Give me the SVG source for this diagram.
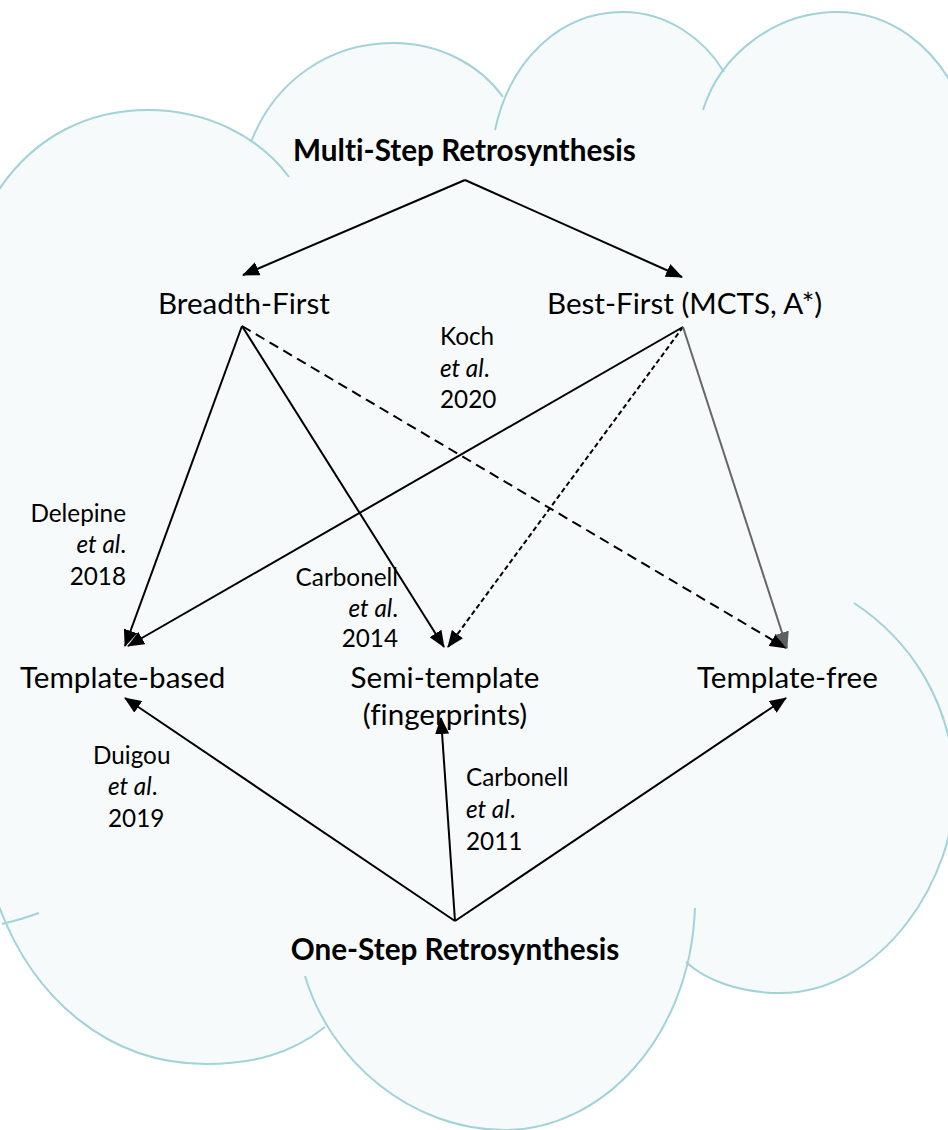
<svg xmlns="http://www.w3.org/2000/svg" width="948" height="1130" viewBox="0 0 948 1130">
  <style>
    .cloud-fill { fill: #f6fafb; stroke: none; }
    .cloud-line { fill: none; stroke: #a1d3d8; stroke-width: 2; }
    .edge { fill: none; stroke: #000; stroke-width: 2; }
    .dash { stroke-dasharray: 10 6; }
    .dot { stroke-dasharray: 5 3; }
    .grey { stroke: #666; }
    text { font-family: Lato, "Open Sans", "Liberation Sans", sans-serif; fill: #000; font-variant-ligatures: none; }
    .title { font-size: 29.7px; font-weight: bold; }
    .label { font-size: 29.6px; }
    .ref { font-size: 24.3px; }
    .it { font-style: italic; }
  </style>
  <defs>
    <marker id="ah" viewBox="0 0 17 14" refX="16" refY="7" markerWidth="17" markerHeight="14" markerUnits="userSpaceOnUse" orient="auto">
      <path d="M0,0 L17,7 L0,14 z" fill="#000"/>
    </marker>
    <marker id="ah-grey" viewBox="0 0 17 14" refX="16" refY="7" markerWidth="17" markerHeight="14" markerUnits="userSpaceOnUse" orient="auto">
      <path d="M0,0 L17,7 L0,14 z" fill="#5f5f5f"/>
    </marker>
  </defs>

  <!-- cloud backdrop: filled body -->
  <g id="cloud">
    <g class="cloud-fill">
      <polygon points="-10,188 150,150 262,140 400,80 500,100 620,50 725,71 840,50 960,77 960,850 686,962 325,1027 -10,910"/>
      <path d="M0,188 C35,135 90,110 148,110 C205,110 258,135 289,177 Z"/>
      <path d="M251,142 C275,80 330,43 393,43 C440,43 480,65 503,97 Z"/>
      <path d="M495,130 C510,60 560,12 623,12 C668,12 705,40 724,72 Z"/>
      <path d="M703,110 C720,55 775,12 837,12 C890,12 935,45 960,100 Z"/>
      <path d="M854,603 C910,640 950,700 955,780 C958,880 880,993 780,993 C740,993 705,980 686,962 Z"/>
      <path d="M695,908 C690,1040 600,1130 505,1130 C410,1130 330,1060 305,976 Z"/>
      <path d="M325,1027 C290,1055 250,1064 206,1064 C110,1064 30,1000 -5,895 Z"/>
      <rect x="-10" y="180" width="20" height="740"/>
    </g>
    <!-- cloud outline arcs -->
    <path class="cloud-line" d="M-2,191 C35,135 90,110 148,110 C205,110 258,135 289,177"/>
    <path class="cloud-line" d="M251,142 C275,80 330,43 393,43 C440,43 480,65 503,97"/>
    <path class="cloud-line" d="M495,130 C510,60 560,12 623,12 C668,12 705,40 724,72"/>
    <path class="cloud-line" d="M703,110 C720,55 775,12 837,12 C890,12 935,45 960,100"/>
    <path class="cloud-line" d="M854,603 C910,640 950,700 955,780 C958,880 880,993 780,993 C740,993 705,980 686,962"/>
    <path class="cloud-line" d="M695,908 C690,1040 600,1130 505,1130 C410,1130 330,1060 305,976"/>
    <path class="cloud-line" d="M325,1027 C290,1055 250,1064 206,1064 C110,1064 30,1000 -5,895"/>
    <path class="cloud-line" d="M2,924 Q20,920 39,913"/>
  </g>

  <!-- connectors -->
  <g id="connectors">
    <line class="edge" x1="465" y1="180" x2="243" y2="275" marker-end="url(#ah)"/>
    <line class="edge" x1="465" y1="180" x2="682" y2="277" marker-end="url(#ah)"/>
    <line class="edge" x1="242" y1="326" x2="125" y2="646" marker-end="url(#ah)"/>
    <line class="edge" x1="242" y1="326" x2="444" y2="647" marker-end="url(#ah)"/>
    <line class="edge dash" x1="242" y1="326" x2="786" y2="648" marker-end="url(#ah)"/>
    <line class="edge" x1="683" y1="327" x2="128" y2="646" marker-end="url(#ah)"/>
    <line class="edge dot" x1="683" y1="327" x2="448" y2="647" marker-end="url(#ah)"/>
    <line class="edge grey" x1="683" y1="327" x2="787" y2="648" marker-end="url(#ah-grey)"/>
    <line class="edge" x1="455" y1="921" x2="125" y2="698" marker-end="url(#ah)"/>
    <line class="edge" x1="455" y1="921" x2="441" y2="718" marker-end="url(#ah)"/>
    <line class="edge" x1="455" y1="921" x2="786" y2="698" marker-end="url(#ah)"/>
  </g>

  <g id="multi-step">
    <text class="title" x="464.5" y="161" text-anchor="middle">Multi-Step Retrosynthesis</text>
  </g>
  <g id="breadth-first">
    <text class="label" x="158" y="314">Breadth-First</text>
  </g>
  <g id="best-first">
    <text class="label" x="547" y="314">Best-First (MCTS, A*)</text>
  </g>
  <g id="template-based">
    <text class="label" x="20" y="688">Template-based</text>
  </g>
  <g id="semi-template">
    <text class="label" x="445" y="688" text-anchor="middle">Semi-template</text>
    <text class="label" x="445" y="725" text-anchor="middle">(fingerprints)</text>
  </g>
  <g id="template-free">
    <text class="label" x="697" y="688">Template-free</text>
  </g>
  <g id="one-step">
    <text class="title" x="455" y="960" text-anchor="middle">One-Step Retrosynthesis</text>
  </g>

  <g id="ref-koch">
    <text class="ref" x="440" y="345">Koch</text>
    <text class="ref" x="440" y="377"><tspan class="it">et al</tspan>.</text>
    <text class="ref" x="440" y="408">2020</text>
  </g>
  <g id="ref-delepine">
    <text class="ref" x="126" y="522" text-anchor="end">Delepine</text>
    <text class="ref" x="126" y="553" text-anchor="end"><tspan class="it">et al</tspan>.</text>
    <text class="ref" x="126" y="585" text-anchor="end">2018</text>
  </g>
  <g id="ref-carbonell-2014">
    <text class="ref" x="398" y="586" text-anchor="end">Carbonell</text>
    <text class="ref" x="398" y="617" text-anchor="end"><tspan class="it">et al</tspan>.</text>
    <text class="ref" x="398" y="647" text-anchor="end">2014</text>
  </g>
  <g id="ref-duigou">
    <text class="ref" x="93" y="764">Duigou</text>
    <text class="ref" x="108" y="795"><tspan class="it">et al</tspan>.</text>
    <text class="ref" x="108" y="827">2019</text>
  </g>
  <g id="ref-carbonell-2011">
    <text class="ref" x="466" y="786">Carbonell</text>
    <text class="ref" x="466" y="818"><tspan class="it">et al</tspan>.</text>
    <text class="ref" x="466" y="850">2011</text>
  </g>
</svg>
